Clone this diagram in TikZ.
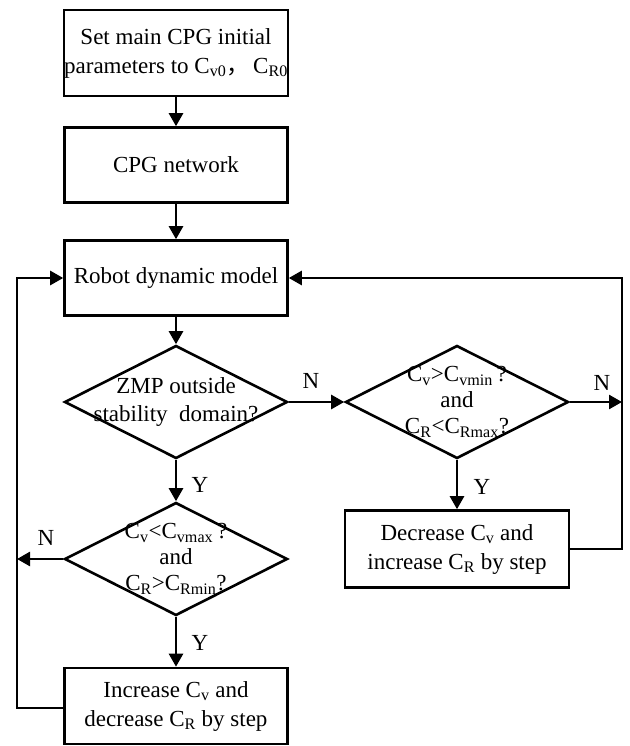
\documentclass[tikz,border=0pt]{standalone}
\usepackage{fontspec}
\setmainfont{Liberation Serif}
\newfontfamily\cjk{Noto Sans CJK SC}
\usetikzlibrary{shapes.geometric,arrows.meta}
\newcommand{\Csub}[1]{C\textsubscript{#1}}
\tikzset{
  block/.style={draw, line width=2.6pt, minimum width=223pt, align=center, inner sep=0pt},
  decision/.style={diamond, draw, line width=2.6pt, minimum width=223pt, minimum height=113pt, inner sep=0pt},
  dtext/.style={align=center, inner sep=0pt},
  arr/.style={line width=2.6pt, -{Triangle[length=13pt,width=14pt]}},
  yn/.style={inner sep=0pt}
}
\begin{document}
\begin{tikzpicture}[x=1pt, y=-1pt, font=\fontsize{23}{29}\selectfont]
\useasboundingbox (0,0) rectangle (629,746);
% boxes
\node[block, minimum height=86pt] (init) at (176,53) {Set main CPG initial\\parameters to \Csub{v0}{\cjk ，}\,\Csub{R0}};
\node[block, minimum height=75pt] (net) at (176,165) {CPG network};
\node[block, minimum height=75pt] (robot) at (176,278) {Robot dynamic model};
\node[decision, label={[dtext, font=\fontsize{23}{28}\selectfont]center:ZMP outside\\stability\ \ domain?}] (zmp) at (176,402) {};
\node[decision, label={[dtext, font=\fontsize{23}{26}\selectfont]center:\Csub{v}>\Csub{vmin}\,?\\and\\\Csub{R}<\Csub{Rmax}?}] (chkdec) at (457,402) {};
\node[decision, label={[dtext, font=\fontsize{23}{26}\selectfont]center:\Csub{v}<\Csub{vmax}\,?\\and\\\Csub{R}>\Csub{Rmin}?}] (chkinc) at (176,559) {};
\node[block, minimum height=77pt, minimum width=224pt] (dec) at (457,549) {Decrease \Csub{v} and\\increase \Csub{R} by step};
\node[block, minimum height=76pt] (inc) at (176,706) {Increase \Csub{v} and\\decrease \Csub{R} by step};

% loop corners
\coordinate (rtop) at (622,278);
\coordinate (rbot) at (622,549);
\coordinate (rmid) at (622,402);
\coordinate (ltop) at (17,278);
\coordinate (lbot) at (17,708);
\coordinate (lmid) at (17,559);

% main flow
\draw[arr] (init) -- (net);
\draw[arr] (net) -- (robot);
\draw[arr] (robot) -- (zmp);
\draw[arr] (zmp) -- (chkdec);
\draw[arr] (zmp) -- (chkinc);
\draw[arr] (chkdec) -- (dec);
\draw[arr] (chkinc) -- (inc);
\draw[arr] (chkdec.east) -- (rmid);
\draw[arr] (chkinc.west) -- (lmid);

% feedback
\draw[arr] (dec.east) -- (rbot) -- (rtop) -- (robot.east);
\draw[arr] (inc.west |- lbot) -- (lbot) -- (ltop) -- (robot.west);

% labels
\node[yn] (n1) at (311,381) {N};
\node[yn] (n2) at (602,383) {N};
\node[yn] (y1) at (200,485) {Y};
\node[yn] (y2) at (482,487) {Y};
\node[yn] (n3) at (46,538) {N};
\node[yn] (y3) at (200,643) {Y};
\end{tikzpicture}
\end{document}
